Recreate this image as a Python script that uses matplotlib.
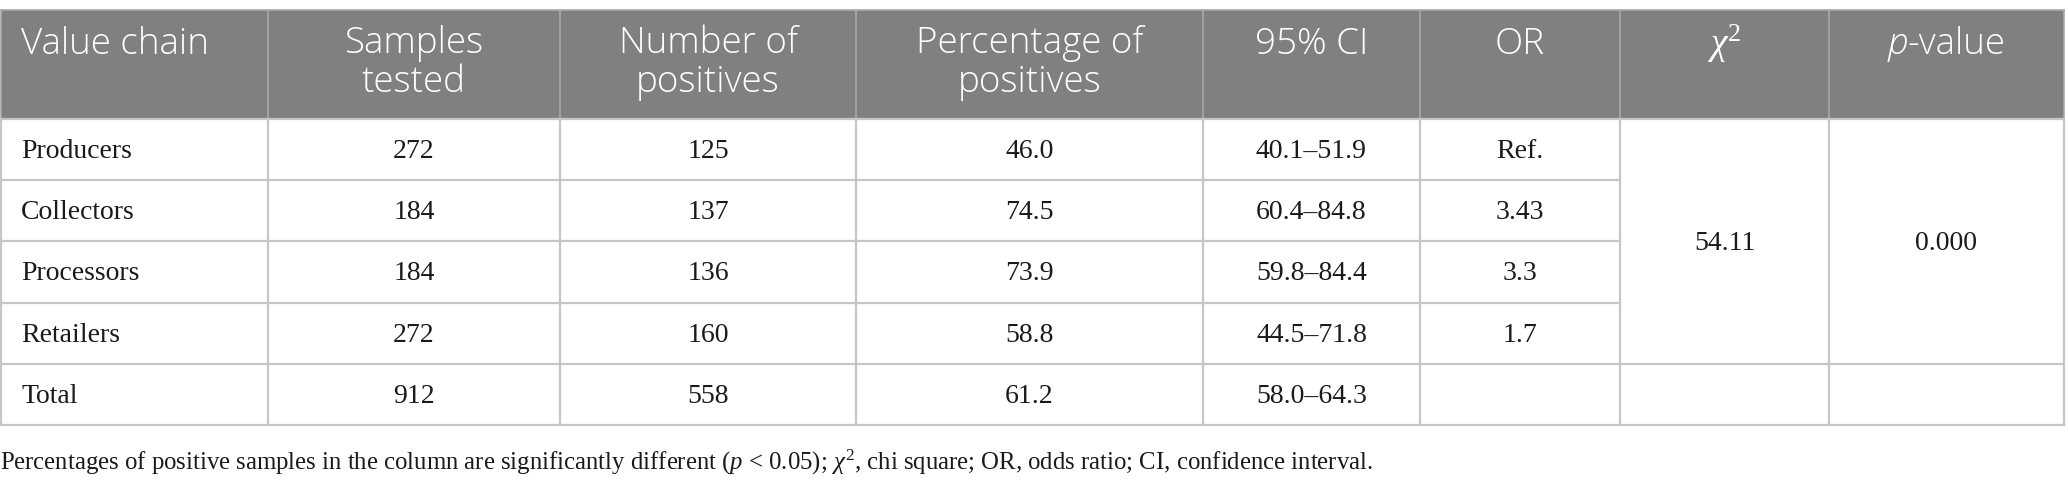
## table of positive samples along the value chain, redrawn as a figure
import numpy as np
import matplotlib.pyplot as plt
from matplotlib.patches import Rectangle
from matplotlib.offsetbox import TextArea, HPacker, AnnotationBbox

plt.rcParams['mathtext.fontset'] = 'custom'
plt.rcParams['mathtext.rm'] = 'Liberation Serif'
plt.rcParams['mathtext.it'] = 'Liberation Serif:italic'

# table data
value_chain = ['Producers', 'Collectors', 'Processors', 'Retailers', 'Total']
samples_tested = [272, 184, 184, 272, 912]
n_positives = [125, 137, 136, 160, 558]
pct_positives = ['46.0', '74.5', '73.9', '58.8', '61.2']
ci_95 = ['40.1–51.9', '60.4–84.8', '59.8–84.4', '44.5–71.8', '58.0–64.3']
odds_ratio = ['Ref.', '3.43', '3.3', '1.7', '']
chi_sq = '54.11'
p_value = '0.000'
headers = ['Value chain', 'Samples\ntested', 'Number of\npositives',
           'Percentage of\npositives', '95% CI', 'OR', None, None]
footnote = (r'Percentages of positive samples in the column are significantly different '
            r'($p$ < 0.05); $\chi^2$, chi square; OR, odds ratio; CI, confidence interval.')

# layout in pixels
W, H = 2068, 482
col_x = [1, 268, 560, 856, 1203, 1420, 1620, 1829, 2064]
top, head_bot = 10, 119
row_h = 61.2
row_y = [head_bot + i * row_h for i in range(6)]
line_col = '#c6c6c6'
head_col = '#808080'
head_font = 'Open Sans'
body_font = 'Liberation Serif'
txt_col = '#1a1a1a'
body_size = 20
head_size = 26.5

fig = plt.figure(figsize=(W / 100, H / 100), dpi=100)
ax = fig.add_axes([0, 0, 1, 1])
ax.set_xlim(0, W)
ax.set_ylim(H, 0)
ax.axis('off')

# header band
ax.add_patch(Rectangle((col_x[0], top), col_x[-1] - col_x[0], head_bot - top,
                       facecolor=head_col, edgecolor='none', zorder=1))
for x in col_x:
    ax.plot([x, x], [top, head_bot], color='#a8a8a8', lw=1.2, zorder=2)
ax.plot([col_x[0], col_x[-1]], [top, top], color='#a8a8a8', lw=1.2, zorder=2)

# body grid
for x in col_x:
    ax.plot([x, x], [head_bot, row_y[-1]], color=line_col, lw=1.6, zorder=2)
for i, y in enumerate(row_y):
    if 0 < i < 4:
        ax.plot([col_x[0], col_x[6]], [y, y], color=line_col, lw=1.6, zorder=2)
    else:
        ax.plot([col_x[0], col_x[-1]], [y, y], color=line_col, lw=1.6, zorder=2)

# header text
for j, h in enumerate(headers):
    if h is None:
        continue
    if j == 0:
        ax.text(col_x[0] + 20, 44, h, ha='left', va='center', color='white',
                fontsize=head_size, family=head_font, weight='light', linespacing=1.07)
    else:
        cx = (col_x[j] + col_x[j + 1]) / 2
        ax.text(cx, 44 if '\n' not in h else 63, h, ha='center', va='center',
                color='white', fontsize=head_size, family=head_font, weight='light',
                linespacing=1.07)

cx = (col_x[6] + col_x[7]) / 2
ax.text(cx, 44, r'$\chi^2$', ha='center', va='center', color='white',
        fontsize=27, family=head_font)

pv = HPacker(children=[
    TextArea('p', textprops=dict(color='white', fontsize=head_size, family=head_font,
                                 style='italic', weight='light')),
    TextArea('-value', textprops=dict(color='white', fontsize=head_size, family=head_font,
                                      weight='light'))],
    align='baseline', pad=0, sep=0)
ab = AnnotationBbox(pv, ((col_x[7] + col_x[8]) / 2, 44), xycoords='data',
                    frameon=False, box_alignment=(0.5, 0.5), pad=0)
ax.add_artist(ab)

# body text, placed on the baseline so glyphs sit in the cell middle
base_off = 8.5
cols = [samples_tested, n_positives, pct_positives, ci_95, odds_ratio]
for i in range(len(value_chain)):
    cy = (row_y[i] + row_y[i + 1]) / 2
    ax.text(col_x[0] + 20, cy + base_off, value_chain[i], ha='left', va='baseline',
            fontsize=body_size, family=body_font, color=txt_col)
    for j, col in enumerate(cols):
        cx = (col_x[j + 1] + col_x[j + 2]) / 2
        ax.text(cx, cy + base_off, str(col[i]), ha='center', va='baseline',
                fontsize=body_size, family=body_font, color=txt_col)

merged_cy = (row_y[0] + row_y[4]) / 2
ax.text((col_x[6] + col_x[7]) / 2, merged_cy + base_off, chi_sq, ha='center',
        va='baseline', fontsize=body_size, family=body_font, color=txt_col)
ax.text((col_x[7] + col_x[8]) / 2, merged_cy + base_off, p_value, ha='center',
        va='baseline', fontsize=body_size, family=body_font, color=txt_col)

# footnote
ax.text(col_x[0] - 1, 462, footnote, ha='left', va='center', fontsize=17.8,
        family=body_font, color=txt_col)

plt.savefig('out.png', dpi=100)
